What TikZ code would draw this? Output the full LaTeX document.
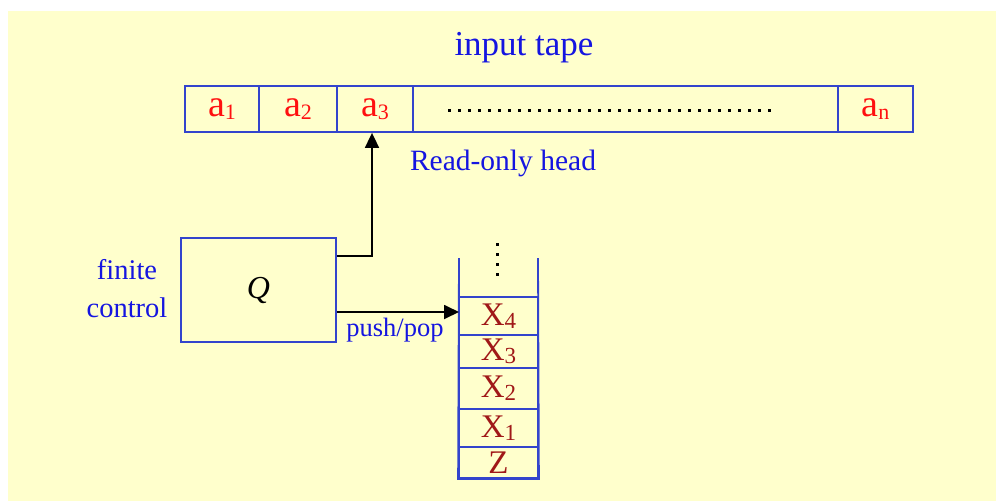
\documentclass[tikz,border=0pt]{standalone}
\usepackage{fontspec}
\setmainfont{Liberation Serif}
\usetikzlibrary{arrows.meta}
\definecolor{bgyellow}{HTML}{FFFFCC}
\definecolor{lineblue}{HTML}{3344CC}
\definecolor{txtblue}{HTML}{1515E0}
\definecolor{tapered}{HTML}{FF1010}
\definecolor{stackred}{HTML}{A01818}
\newcommand{\tsub}[1]{\raisebox{-2.5pt}{\fontsize{22}{22}\selectfont #1}}
\newcommand{\ssub}[1]{\raisebox{-3pt}{\fontsize{23}{23}\selectfont #1}}
\tikzset{
  cell/.style={draw=lineblue, line width=1.8pt, inner sep=0pt, minimum height=46pt,
    text=tapered, font=\fontsize{38}{38}\selectfont},
  stk/.style={draw=lineblue, line width=1.8pt, inner sep=0pt, minimum width=79pt,
    text=stackred, font=\fontsize{33}{33}\selectfont},
  wall/.style={lineblue, line width=1.8pt},
  arr/.style={black, line width=1.8pt, -{Triangle[length=15pt,width=14pt]}},
  lbl/.style={text=txtblue, inner sep=0pt},
  dotline/.style={black, line width=3pt, dash pattern=on 3pt off 7pt},
}
\begin{document}
\begin{tikzpicture}[x=1pt,y=-1pt]
\useasboundingbox (0,0) rectangle (996,501);
\fill[bgyellow] (8,11) rectangle (996,501);

% title
\node[lbl, font=\fontsize{35}{35}\selectfont] (title) at (524,48) {input tape};

% tape
\node[cell, minimum width=74pt] (c1) at (222,109) {a\tsub{1}};
\node[cell, minimum width=78pt] (c2) at (298,109) {a\tsub{2}};
\node[cell, minimum width=76pt] (c3) at (375,109) {a\tsub{3}};
\node[cell, minimum width=425pt] (c4) at (625.5,109) {};
\node[cell, minimum width=75pt] (c5) at (875.5,109) {a\tsub{n}};
\coordinate (d1) at (448,110);
\coordinate (d2) at (776,110);
\draw[dotline] (d1) -- (d2);

\node[lbl, font=\fontsize{29.5}{29.5}\selectfont] (head) at (503,163) {Read-only head};

% finite control
\node[draw=lineblue, line width=1.5pt, minimum width=155pt, minimum height=104pt, inner sep=0pt,
  font=\fontsize{32}{32}\selectfont\itshape] (Q) at (258.5,290) {Q};
\node[lbl, align=center, font=\fontsize{28.5}{38}\selectfont] (fc) at (127,289) {finite\\control};

% stack
\node[stk, minimum height=38pt] (s4) at (498.5,316) {X\ssub{4}};
\node[stk, minimum height=33pt] (s3) at (498.5,351.5) {X\ssub{3}};
\node[stk, minimum height=41pt] (s2) at (498.5,388.5) {X\ssub{2}};
\node[stk, minimum height=38pt] (s1) at (498.5,428) {X\ssub{1}};
\node[stk, minimum height=31pt] (sz) at (498.5,462.5) {Z};
\coordinate (wl) at (459,258);
\coordinate (wr) at (538,258);
\draw[wall] (wl) -- (sz.south west) -- (sz.south east) -- (wr);
\coordinate (v1) at (497,243);
\coordinate (v2) at (497,276);
\draw[dotline] (v1) -- (v2);

% connectors
\coordinate (h) at (372,256);
\draw[arr] (Q.east |- h) -- (h) -- (h |- c3.south);
\coordinate (p) at (459,312);
\draw[arr] (Q.east |- p) -- (p);
\node[lbl, font=\fontsize{26.5}{26.5}\selectfont] (pp) at (395,330) {push/pop};
\end{tikzpicture}
\end{document}
